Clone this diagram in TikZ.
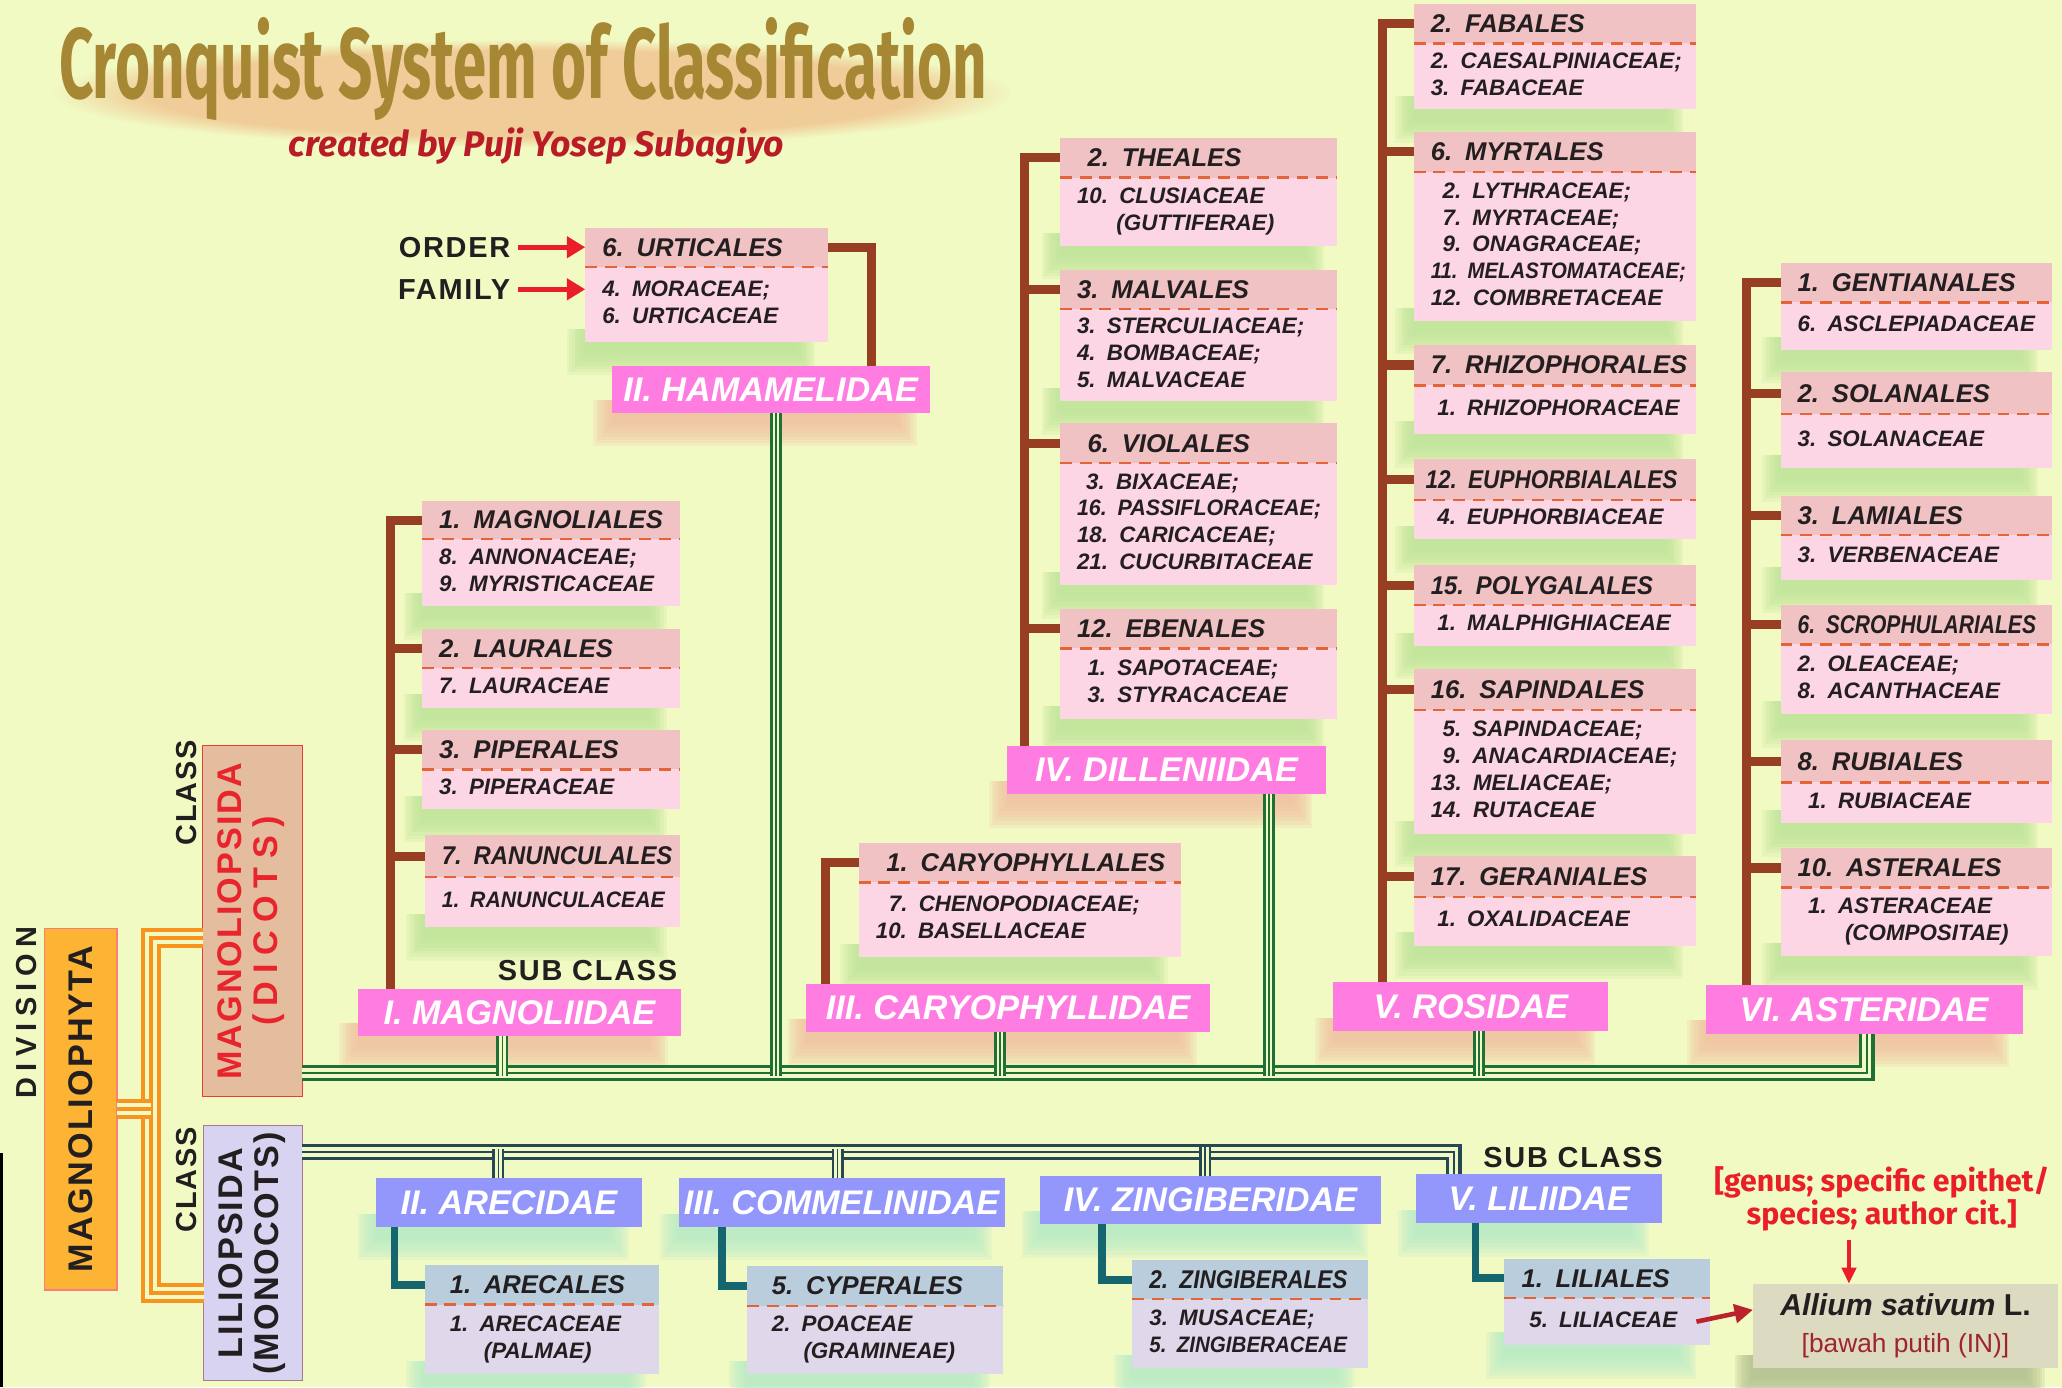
\documentclass[tikz,border=0pt]{standalone}
\usepackage{fontspec}
\setmainfont{Liberation Sans}
\newfontfamily\ordfont{Liberation Sans}
\newfontfamily\ttlfont{Fira Sans}[FakeStretch=0.6]
\newfontfamily\subfont{Fira Sans}
\newfontfamily\clsfont{Liberation Sans}[LetterSpace=6]
\usetikzlibrary{arrows.meta,fadings}
\pgfdeclarelayer{backdrop}
\pgfdeclarelayer{bg}
\pgfsetlayers{backdrop,bg,main}

\definecolor{bgc}{RGB}{242,250,196}
\definecolor{ttl}{RGB}{166,136,52}
\definecolor{ttlsh}{RGB}{238,150,100}
\definecolor{byred}{RGB}{185,28,38}
\definecolor{ohead}{RGB}{240,194,196}
\definecolor{obody}{RGB}{253,214,229}
\definecolor{mhead}{RGB}{185,205,220}
\definecolor{mbody}{RGB}{223,216,235}
\definecolor{sepc}{RGB}{228,100,56}
\definecolor{ink}{RGB}{35,30,32}
\definecolor{brn}{RGB}{152,62,34}
\definecolor{dpink}{RGB}{255,125,225}
\definecolor{mblue}{RGB}{147,151,251}
\definecolor{dgrn}{RGB}{30,112,54}
\definecolor{slate}{RGB}{38,72,84}
\definecolor{tealc}{RGB}{22,102,112}
\definecolor{orng}{RGB}{247,147,30}
\definecolor{divc}{RGB}{253,180,52}
\definecolor{divb}{RGB}{246,128,120}
\definecolor{dicf}{RGB}{228,188,158}
\definecolor{dicb}{RGB}{235,60,55}
\definecolor{dict}{RGB}{232,36,44}
\definecolor{monf}{RGB}{216,211,240}
\definecolor{monb}{RGB}{168,122,146}
\definecolor{obsh}{RGB}{188,226,150}
\definecolor{sbsh}{RGB}{240,190,160}
\definecolor{shm}{RGB}{180,234,200}
\definecolor{allsh}{RGB}{175,188,140}
\definecolor{allf}{RGB}{220,218,192}
\definecolor{allr}{RGB}{158,36,48}
\definecolor{gred}{RGB}{234,30,40}
\definecolor{arr}{RGB}{186,34,44}

\newcommand{\glow}[2]{%
  \begin{pgfonlayer}{bg}
  \foreach \k in {1,...,8}{\fill[#2,opacity=.2] ([xshift=-16pt+2pt*\k,yshift=10pt]#1.south west) rectangle ([xshift=-8pt-2pt*\k,yshift=-28pt+2.5pt*\k]#1.south east);}
  \end{pgfonlayer}}

\newcommand{\orderbox}[7]{%
  \node[ordhead,minimum width=#3,minimum height=#4,text width=#3pt-26pt,anchor=north west] (#1) at (#2) {\mbox{#6}};
  \node[ordbody,minimum width=#3,minimum height=#5,text width=#3pt-26pt,anchor=north west] (#1f) at (#1.south west) {\begin{tabular}{@{}l@{}}#7\end{tabular}};
  \draw[famsep] (#1.south west) -- (#1.south east);
  \glow{#1f}{obsh}}

\begin{document}
\begin{tikzpicture}[x=1pt,y=-1pt,>=Latex,
  every node/.style={inner sep=0pt,outer sep=0pt},
  ordhead/.style={fill=ohead,text=ink,inner xsep=13pt,align=left,font=\ordfont\bfseries\itshape\fontsize{19.5}{21}\selectfont},
  ordbody/.style={fill=obody,text=ink,inner xsep=13pt,align=left,font=\ordfont\bfseries\itshape\fontsize{17}{20.5}\selectfont},
  famsep/.style={draw=sepc,line width=1.8,dash pattern=on 9pt off 6pt},
  subbox/.style={fill=dpink,text=white,anchor=north west,font=\ordfont\bfseries\itshape\fontsize{26}{28}\selectfont},
  lbl/.style={text=ink,font=\clsfont\bfseries\fontsize{22}{24}\selectfont},
  clslbl/.style={text=ink,rotate=90,font=\clsfont\bfseries\fontsize{22}{24}\selectfont},
  ordline/.style={draw=brn,line width=7},
  mline/.style={draw=tealc,line width=6},
  dbus/.style={draw=dgrn,line width=12,postaction={draw=bgc,line width=7},postaction={draw=dgrn,line width=1.6}},
  ddrop/.style={draw=dgrn,line width=9,postaction={draw=bgc,line width=5},postaction={draw=dgrn,line width=1.2}},
  mbus/.style={draw=slate,line width=12,postaction={draw=bgc,line width=7},postaction={draw=slate,line width=1.6}},
  mdrop/.style={draw=slate,line width=9,postaction={draw=bgc,line width=5},postaction={draw=slate,line width=1.2}},
  obus/.style={draw=orng,line width=15,postaction={draw=bgc,line width=9},postaction={draw=orng,line width=3}},
  redarr/.style={draw=gred,line width=4,-{Triangle[length=14pt,width=16pt]}}
]
\begin{pgfonlayer}{backdrop}
\fill[bgc] (0,0) rectangle (1568,1055);
\end{pgfonlayer}
\useasboundingbox (0,0) rectangle (1568,1055);
\draw[black,line width=2] (1,877) -- (1,1055);

\fill[ttlsh,opacity=.45,path fading=circle with fuzzy edge 20 percent] (40,30) rectangle (770,112);
\node[anchor=base west,text=ttl,font=\ttlfont\bfseries\fontsize{76}{80}\selectfont] (title) at (45,75) {Cronquist System of Classification};
\node[text=byred,font=\subfont\bfseries\itshape\fontsize{27}{28}\selectfont] (author) at (408,111) {created by Puji Yosep Subagiyo};

\node[fill=divc,draw=divb,line width=1,minimum width=55,minimum height=275,font=\clsfont\bfseries\fontsize{26}{28}\selectfont,text=ink] (dvs) at (61.5,843.5) {\rotatebox{90}{MAGNOLIOPHYTA}};
\node[clslbl] (divlbl) at (20,770) {\addfontfeatures{LetterSpace=22}DIVISION};
\node[fill=dicf,draw=dicb,line width=1,minimum width=76,minimum height=267,text=dict,font=\clsfont\bfseries\fontsize{26}{27}\selectfont] (mgp) at (192,700.5)
  {\rotatebox{90}{\begin{tabular}{@{}c@{}}MAGNOLIOPSIDA\\\addfontfeatures{LetterSpace=24}(DICOTS)\end{tabular}}};
\node[clslbl] (cls1) at (142,603) {CLASS};
\node[fill=monf,draw=monb,line width=1,minimum width=75,minimum height=194,text=ink,font=\clsfont\bfseries\fontsize{26}{27}\selectfont] (lio) at (192.5,953)
  {\rotatebox{90}{\begin{tabular}{@{}c@{}}LILIOPSIDA\\(MONOCOTS)\end{tabular}}};
\node[clslbl] (cls2) at (142,897) {CLASS};

\coordinate (ospine) at (115,843.5);
\draw[obus] ([yshift=-146pt]mgp.north west) -| (ospine) |- ([yshift=-127pt]lio.north west);
\draw[obus] (dvs.east) -- (ospine);

\node[subbox,minimum width=246,minimum height=36] (magno) at (272,752) {I. MAGNOLIIDAE};
\node[subbox,minimum width=242,minimum height=36] (hama) at (465,278) {II. HAMAMELIDAE};
\node[subbox,minimum width=307,minimum height=37] (caryo) at (613,748) {III. CARYOPHYLLIDAE};
\node[subbox,minimum width=242,minimum height=37] (dille) at (766,567) {IV. DILLENIIDAE};
\node[subbox,minimum width=209,minimum height=37] (rosi) at (1014,747) {V. ROSIDAE};
\node[subbox,minimum width=241,minimum height=37] (asteri) at (1297,749) {VI. ASTERIDAE};
\foreach \s in {magno,hama,caryo,dille,rosi,asteri}{\glow{\s}{sbsh}}

\orderbox{urt}{445,173}{185}{30}{57}{6. URTICALES}{4. MORACEAE;\\6. URTICACEAE}
\orderbox{mag1}{321,381}{196}{29}{51}{1. MAGNOLIALES}{8. ANNONACEAE;\\9. MYRISTICACEAE}
\orderbox{mag2}{321,478}{196}{30}{30}{2. LAURALES}{7. LAURACEAE}
\orderbox{mag3}{321,555}{196}{30}{30}{3. PIPERALES}{3. PIPERACEAE}
\orderbox{mag4}{323,635}{194}{32}{38}{\scalebox{0.93}[1]{7. RANUNCULALES}}{\scalebox{0.95}[1]{1. RANUNCULACEAE}}
\orderbox{cary1}{653,641}{245}{30}{57}{\hspace*{8pt}1. CARYOPHYLLALES}{\hspace*{10pt}7. CHENOPODIACEAE;\\10. BASELLACEAE}
\orderbox{dil1}{806,105}{211}{30}{52}{\hspace*{8pt}2. THEALES}{10. CLUSIACEAE\\\hspace*{30pt}(GUTTIFERAE)}
\orderbox{dil2}{806,205}{211}{30}{70}{3. MALVALES}{3. STERCULIACEAE;\\4. BOMBACEAE;\\5. MALVACEAE}
\orderbox{dil3}{806,322}{211}{30}{93}{\hspace*{8pt}6. VIOLALES}{\hspace*{7pt}3. BIXACEAE;\\\scalebox{0.96}[1]{16. PASSIFLORACEAE;}\\18. CARICACEAE;\\21. CUCURBITACEAE}
\orderbox{dil4}{806,463}{211}{30}{54}{12. EBENALES}{\hspace*{8pt}1. SAPOTACEAE;\\\hspace*{8pt}3. STYRACACEAE}
\orderbox{ros1}{1075,3}{215}{30}{50}{2. FABALES}{2. CAESALPINIACEAE;\\3. FABACEAE}
\orderbox{ros2}{1075,100}{215}{31}{113}{6. MYRTALES}{\hspace*{9pt}2. LYTHRACEAE;\\\hspace*{9pt}7. MYRTACEAE;\\\hspace*{9pt}9. ONAGRACEAE;\\\scalebox{0.91}[1]{11. MELASTOMATACEAE;}\\12. COMBRETACEAE}
\orderbox{ros3}{1075,262}{215}{31}{37}{7. RHIZOPHORALES}{\hspace*{5pt}1. RHIZOPHORACEAE}
\orderbox{ros4}{1075,349}{215}{31}{30}{\hspace*{-4pt}\scalebox{0.88}[1]{12. EUPHORBIALALES}}{\hspace*{5pt}4. EUPHORBIACEAE}
\orderbox{ros5}{1075,430}{215}{30}{31}{\scalebox{0.93}[1]{15. POLYGALALES}}{\hspace*{5pt}1. MALPHIGHIACEAE}
\orderbox{ros6}{1075,509}{215}{31}{94}{16. SAPINDALES}{\hspace*{9pt}5. SAPINDACEAE;\\\hspace*{9pt}9. ANACARDIACEAE;\\13. MELIACEAE;\\14. RUTACEAE}
\orderbox{ros7}{1075,651}{215}{31}{37}{17. GERANIALES}{\hspace*{5pt}1. OXALIDACEAE}
\orderbox{ast1}{1354,200}{206}{30}{36}{1. GENTIANALES}{6. ASCLEPIADACEAE}
\orderbox{ast2}{1354,283}{206}{32}{41}{2. SOLANALES}{3. SOLANACEAE}
\orderbox{ast3}{1354,377}{206}{30}{34}{3. LAMIALES}{3. VERBENACEAE}
\orderbox{ast4}{1354,460}{206}{30}{53}{\scalebox{0.82}[1]{6. SCROPHULARIALES}}{2. OLEACEAE;\\8. ACANTHACEAE}
\orderbox{ast5}{1354,563}{206}{32}{31}{8. RUBIALES}{\hspace*{8pt}1. RUBIACEAE}
\orderbox{ast6}{1354,645}{206}{30}{52}{10. ASTERALES}{\hspace*{8pt}1. ASTERACEAE\\\hspace*{36pt}(COMPOSITAE)}

\draw[ordline] (urt.east) -| ([xshift=198pt]hama.north west);
\draw[ordline] (mag1.west) -| ([xshift=25pt]magno.north west);
\draw[ordline] (mag2.west) -- ++(-24,0);
\draw[ordline] (mag3.west) -- ++(-24,0);
\draw[ordline] (mag4.west) -- ++(-26,0);
\draw[ordline] (cary1.west) -| ([xshift=15pt]caryo.north west);
\draw[ordline] (dil1.west) -| ([xshift=13pt]dille.north west);
\draw[ordline] (dil2.west) -- ++(-27,0);
\draw[ordline] (dil3.west) -- ++(-27,0);
\draw[ordline] (dil4.west) -- ++(-27,0);
\draw[ordline] (ros1.west) -| ([xshift=37pt]rosi.north west);
\draw[ordline] (ros2.west) -- ++(-24,0);
\draw[ordline] (ros3.west) -- ++(-24,0);
\draw[ordline] (ros4.west) -- ++(-24,0);
\draw[ordline] (ros5.west) -- ++(-24,0);
\draw[ordline] (ros6.west) -- ++(-24,0);
\draw[ordline] (ros7.west) -- ++(-24,0);
\draw[ordline] (ast1.west) -| ([xshift=31pt]asteri.north west);
\draw[ordline] (ast2.west) -- ++(-26,0);
\draw[ordline] (ast3.west) -- ++(-26,0);
\draw[ordline] (ast4.west) -- ++(-26,0);
\draw[ordline] (ast5.west) -- ++(-26,0);
\draw[ordline] (ast6.west) -- ++(-26,0);

\draw[dbus] ([yshift=18pt]mgp.south east) -| ([xshift=2pt]asteri.south);
\draw[ddrop] ([xshift=-13pt]magno.south) -- ++(0,30);
\draw[ddrop] ([xshift=4pt]hama.south) -- ++(0,504);
\draw[ddrop] ([xshift=-6pt]caryo.south) -- ++(0,33);
\draw[ddrop] ([xshift=78pt]dille.south) -- ++(0,214);
\draw[ddrop] ([xshift=6pt]rosi.south) -- ++(0,34);

\node[lbl,anchor=east] (ordl) at (388,188) {ORDER};
\node[lbl,anchor=east] (faml) at (388,220) {FAMILY};
\draw[redarr] ([xshift=6pt]ordl.east) -- (urt.west);
\draw[redarr] ([xshift=6pt]faml.east) -- (faml.east -| urtf.west);
\node[lbl,anchor=south east] (scl1) at (515,746) {SUB CLASS};

\begin{scope}[ordhead/.append style={fill=mhead},ordbody/.append style={fill=mbody},subbox/.append style={fill=mblue}]
\colorlet{obsh}{shm}
\node[subbox,minimum width=202,minimum height=37] (areci) at (286,896) {II. ARECIDAE};
\node[subbox,minimum width=248,minimum height=37] (commel) at (516,896) {III. COMMELINIDAE};
\node[subbox,minimum width=259,minimum height=37] (zingi) at (791,894) {IV. ZINGIBERIDAE};
\node[subbox,minimum width=187,minimum height=37] (lili) at (1077,893) {V. LILIIDAE};
\foreach \s in {areci,commel,zingi,lili}{\glow{\s}{shm}}
\orderbox{arec}{323,962}{178}{30}{53}{\hspace*{6pt}1. ARECALES}{\hspace*{6pt}1. ARECACEAE\\\hspace*{32pt}(PALMAE)}
\orderbox{cyp}{568,963}{195}{30}{52}{\hspace*{6pt}5. CYPERALES}{\hspace*{6pt}2. POACEAE\\\hspace*{30pt}(GRAMINEAE)}
\orderbox{zin}{861,958}{179}{30}{52}{\scalebox{0.88}[1]{2. ZINGIBERALES}}{3. MUSACEAE;\\\scalebox{0.92}[1]{5. ZINGIBERACEAE}}
\orderbox{lil}{1144,957}{156}{30}{36}{1. LILIALES}{\hspace*{6pt}5. LILIACEAE}
\end{scope}

\draw[mbus] ([yshift=-20pt]lio.north east) -| ([xshift=-65pt]lili.north);
\draw[mdrop] ([xshift=-8pt]areci.north) -- ++(0,-22);
\draw[mdrop] ([xshift=-3pt]commel.north) -- ++(0,-22);
\draw[mdrop] ([xshift=-4pt]zingi.north) -- ++(0,-22);
\draw[mline] ([xshift=14pt]areci.south west) |- (arec.west);
\draw[mline] ([xshift=33pt]commel.south west) |- (cyp.west);
\draw[mline] ([xshift=47pt]zingi.south west) |- (zin.west);
\draw[mline] ([xshift=45pt]lili.south west) |- (lil.west);
\node[lbl,anchor=south west] (scl2) at (1128,888) {SUB CLASS};

\node[text=gred,align=center,font=\subfont\bfseries\fontsize{23}{21}\selectfont] (genus) at (1431,912) {[genus; specific epithet/\\species; author cit.]};
\node[fill=allf,anchor=north west,minimum width=232,minimum height=64,align=center,text=ink,font=\bfseries\fontsize{23}{28}\selectfont] (allium) at (1333,976)
  {\textit{Allium sativum} L.\\{\color{allr}\mdseries\fontsize{20}{24}\selectfont[bawah putih (IN)]}};
\glow{allium}{allsh}
\coordinate (gtip) at (1406,976);
\draw[draw=gred,line width=2.5,-{Triangle[length=12pt,width=11pt]}] (gtip |- genus.south) ++(0,6) -- (gtip);
\draw[draw=arr,line width=3.5,-{Triangle[length=14pt,width=14pt]}] ([xshift=-10pt]lilf.east) -- ([yshift=12pt]allium.west);
\end{tikzpicture}
\end{document}
